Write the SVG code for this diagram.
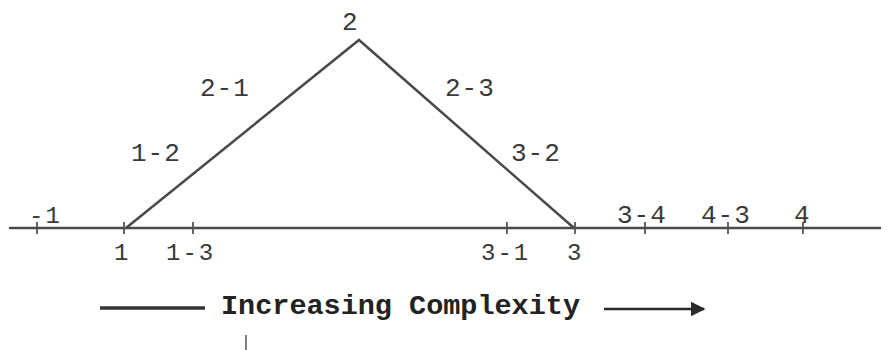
<svg xmlns="http://www.w3.org/2000/svg" width="887" height="350" viewBox="0 0 887 350">
<defs>
<style>
.ln{stroke:#4a4a4a;stroke-width:2.5;fill:none;stroke-linecap:round}
.tk{stroke:#555;stroke-width:1.8}
.lb{font-family:"Liberation Mono","DejaVu Sans Mono",monospace;font-size:26px;letter-spacing:1px;fill:#3a3a3a}
.lbs{font-family:"Liberation Mono","DejaVu Sans Mono",monospace;font-size:24px;letter-spacing:2px;fill:#3a3a3a}
.ttl{font-family:"Liberation Mono","DejaVu Sans Mono",monospace;font-size:28px;font-weight:bold;fill:#222}
</style>
<marker id="ah" viewBox="0 0 10 10" refX="9" refY="5" markerWidth="6" markerHeight="6" orient="auto" markerUnits="strokeWidth">
<path d="M0,0 L10,5 L0,10 z" fill="#2a2a2a"/>
</marker>
</defs>
<rect width="887" height="350" fill="#fff"/>
<g id="connectors">
<line class="ln" x1="10" y1="228" x2="880" y2="228"/>
<polyline class="ln" points="126,228 359,40 574,228"/>
<line class="tk" x1="37" y1="222" x2="37" y2="234"/>
<line class="tk" x1="124" y1="222" x2="124" y2="234"/>
<line class="tk" x1="193" y1="222" x2="193" y2="234"/>
<line class="tk" x1="507" y1="222" x2="507" y2="234"/>
<line class="tk" x1="575" y1="222" x2="575" y2="234"/>
<line class="tk" x1="645" y1="222" x2="645" y2="234"/>
<line class="tk" x1="728" y1="222" x2="728" y2="234"/>
<line class="tk" x1="803" y1="222" x2="803" y2="234"/>
</g>
<g id="n2"><text class="lb" x="342" y="30">2</text></g>
<g id="n2-1"><text class="lb" x="200" y="96">2-1</text></g>
<g id="n2-3"><text class="lb" x="445" y="96">2-3</text></g>
<g id="n1-2"><text class="lb" x="131" y="161">1-2</text></g>
<g id="n3-2"><text class="lb" x="511" y="161">3-2</text></g>
<g id="n-1"><text class="lbs" x="29" y="223">-1</text></g>
<g id="n1"><text class="lbs" x="114" y="260">1</text></g>
<g id="n1-3"><text class="lbs" x="166" y="260">1-3</text></g>
<g id="n3-1"><text class="lbs" x="481" y="260">3-1</text></g>
<g id="n3"><text class="lbs" x="567" y="260">3</text></g>
<g id="n3-4"><text class="lb" x="617" y="223">3-4</text></g>
<g id="n4-3"><text class="lb" x="701" y="223">4-3</text></g>
<g id="n4"><text class="lb" x="794" y="223">4</text></g>
<g id="caption">
<line x1="100" y1="308" x2="205" y2="308" stroke="#333" stroke-width="3.5"/>
<text class="ttl" x="221" y="314" textLength="359" lengthAdjust="spacingAndGlyphs">Increasing Complexity</text>
<line x1="604" y1="309" x2="704" y2="309" stroke="#2a2a2a" stroke-width="2.5" marker-end="url(#ah)"/>
<line x1="246" y1="335" x2="246" y2="350" stroke="#555" stroke-width="1.5"/>
</g>
</svg>
